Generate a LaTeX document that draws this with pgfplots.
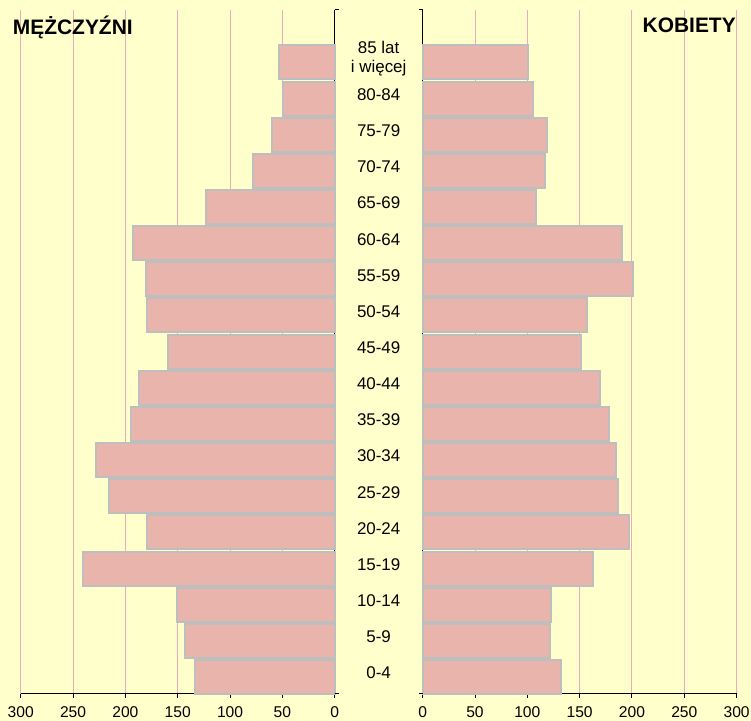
\documentclass[border=0pt]{standalone}
\usepackage{pgfplots}
\pgfplotsset{compat=1.18}
\usepackage{pgfplotstable}
\usepackage{fontspec}
\setmainfont{Liberation Sans}
\definecolor{bgyellow}{RGB}{255,255,204}
\definecolor{barfill}{RGB}{232,180,172}
\definecolor{barline}{RGB}{190,190,190}
\definecolor{gridpink}{RGB}{238,172,186}

% idx: 0 = 0-4 ... 17 = 85 lat i wiecej
\pgfplotstableread{
idx M F
0 133 132
1 143 122
2 151 123
3 240 163
4 179 197
5 216 187
6 228 185
7 195 178
8 187 169
9 159 151
10 179 157
11 180 201
12 193 190
13 123 108
14 78 117
15 60 119
16 49 105
17 53 101
}\pop

\begin{document}
\begin{tikzpicture}
\fill[bgyellow] (0,0) rectangle (563.25pt,540.75pt);
\path[use as bounding box] (0,0) rectangle (563.25pt,540.75pt);
\pgfplotsset{
  pyr/.style={
    scale only axis, width=235.5pt, height=513pt,
    ymin=-0.47, ymax=18.45,
    xbar, bar width=0.94,
    xmajorgrids,
    grid style={gridpink, line width=0.75pt},
    axis line style={black, line width=0.75pt},
    tick style={black, line width=0.75pt},
    tick align=outside,
    major tick length=3pt,
    tick label style={font=\fontsize{11.7}{14}\selectfont},
    xticklabel style={yshift=-3.2pt},
    ytick style={draw=none},
    clip=false,
  },
}
% Men (left)
\begin{axis}[pyr, at={(15.525pt,20.25pt)},
  xmin=-300, xmax=0,
  xtick={-300,-250,-200,-150,-100,-50,0},
  xticklabels={300,250,200,150,100,50,0},
  axis x line*=bottom, axis y line*=right,
  ytick=\empty,
]
\addplot[fill=barfill, draw=barline, line width=1.5pt]
  table[x expr=-\thisrow{M}, y=idx]{\pop};
\draw[black, line width=0.75pt] (axis cs:0,18.45) -- ++(3pt,0pt);
\draw[black, line width=0.75pt] (axis cs:0,-0.47) -- ++(3pt,0pt);
\end{axis}
% Women (right)
\begin{axis}[pyr, at={(317pt,20.25pt)},
  xmin=0, xmax=300,
  xtick={0,50,100,150,200,250,300},
  xticklabels={0,50,100,150,200,250,300},
  axis x line*=bottom, axis y line*=left,
  ytick={0,1,...,17},
  yticklabels={0-4,5-9,10-14,15-19,20-24,25-29,30-34,35-39,40-44,45-49,50-54,55-59,60-64,65-69,70-74,75-79,80-84,{85 lat\\i więcej}},
  yticklabel style={font=\fontsize{12.7}{14.3}\selectfont, align=center, anchor=center, xshift=-30pt, yshift=3pt},
]
\addplot[fill=barfill, draw=barline, line width=1.5pt]
  table[x=F, y=idx]{\pop};
\draw[black, line width=0.75pt] (axis cs:0,18.45) -- ++(-3pt,0pt);
\draw[black, line width=0.75pt] (axis cs:0,-0.47) -- ++(-3pt,0pt);
\end{axis}
\node[anchor=base west, inner sep=0pt, font=\fontsize{15.7}{18}\selectfont\bfseries] at (9.5pt,514.5pt) {MĘŻCZYŹNI};
\node[anchor=base east, inner sep=0pt, font=\fontsize{15.7}{18}\selectfont\bfseries] at (552pt,516pt) {KOBIETY};
\end{tikzpicture}
\end{document}
